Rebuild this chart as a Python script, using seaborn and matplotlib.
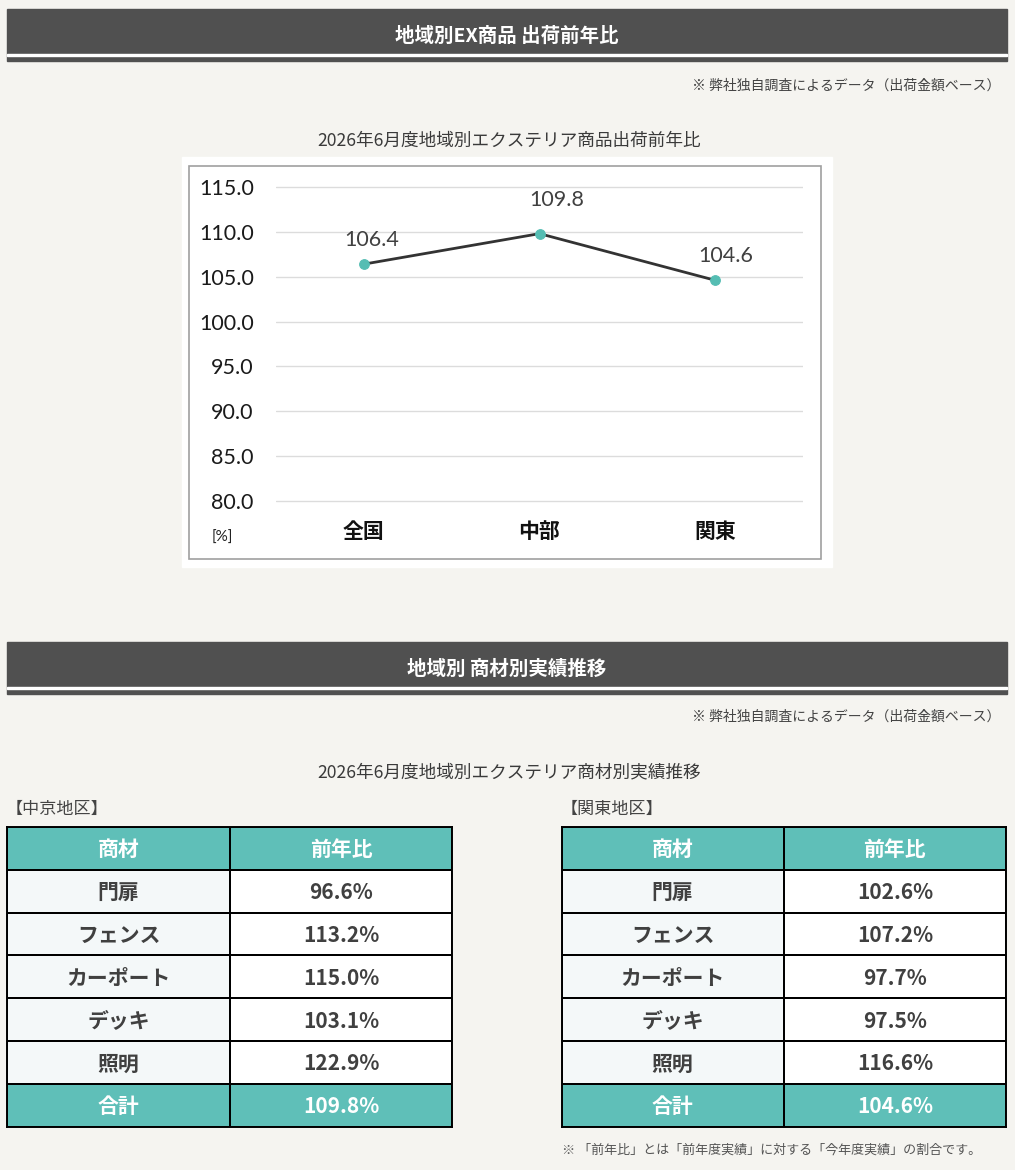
import matplotlib
matplotlib.use("Agg")
import matplotlib.pyplot as plt
import seaborn as sns
import numpy as np
from matplotlib.patches import Rectangle
from matplotlib.colors import ListedColormap

# ---------------- data ----------------
region_names = ["全国", "中部", "関東"]
region_yoy = [106.4, 109.8, 104.6]
y_ticks = [80, 85, 90, 95, 100, 105, 110, 115]

item_names = ["門扉", "フェンス", "カーポート", "デッキ", "照明"]
chukyo_yoy = [96.6, 113.2, 115.0, 103.1, 122.9]
chukyo_total = 109.8
kanto_yoy = [102.6, 107.2, 97.7, 97.5, 116.6]
kanto_total = 104.6

header_labels = ["商材", "前年比"]
total_label = "合計"

# ---------------- style ----------------
W, H = 1015, 1170
BG = "#f5f4f0"
DARK = "#505050"
TEAL = "#5fbfb8"
MARK = "#55bdb3"
LIGHT = "#f4f8f9"
TXT = "#404040"
JP = ["Noto Sans CJK JP", "DejaVu Sans"]
NUM = ["Lato", "Noto Sans CJK JP", "DejaVu Sans"]

sns.set_theme(style="white")
plt.rcParams["font.family"] = JP


def fx(x):
    return x / W


def fy(y):
    return 1 - y / H


fig = plt.figure(figsize=(W / 100, H / 100), dpi=100)
fig.patch.set_facecolor(BG)


def rect(x0, y0, x1, y1, z=-5, **kw):
    fig.patches.append(Rectangle((fx(x0), fy(y1)), (x1 - x0) / W, (y1 - y0) / H,
                                 transform=fig.transFigure, figure=fig, zorder=z, **kw))


def header(y0, title):
    rect(7, y0, 1007, y0 + 51.7, color=DARK)
    rect(7, y0 + 45.3, 1007, y0 + 46.8, color="white", z=-4)
    fig.text(fx(507), fy(y0 + 27.5), title, color="white", fontsize=14,
             fontweight="bold", ha="center", va="center", family=JP)


def note(y):
    fig.text(fx(1000), fy(y), "※ 弊社独自調査によるデータ（出荷金額ベース）",
             color="#444444", fontsize=10, ha="right", va="center", family=JP)


# ---------------- section 1 ----------------
header(9, "地域別EX商品 出荷前年比")
note(86)
fig.text(fx(509), fy(140.5), "2026年6月度地域別エクステリア商品出荷前年比",
         color="#3a3a3a", fontsize=12.7, ha="center", va="center", family=JP)

rect(182, 156.7, 831.5, 566.7, color="white")
rect(189.3, 165.7, 821, 559.3, fill=False, edgecolor="#a0a0a0", linewidth=1.2, z=-3)

ax = fig.add_axes([fx(276), fy(505.5), (803 - 276) / W, (505.5 - 182.5) / H])
ax.set_facecolor("white")
sns.lineplot(x=region_names, y=region_yoy, sort=False, ax=ax, color="#333333",
             linewidth=2.0, marker="o", markersize=7, markerfacecolor=MARK,
             markeredgecolor=MARK, zorder=3)
ax.set_xlim(-0.5, 2.5)
ax.set_ylim(79.5, 115.5)
ax.set_yticks(y_ticks)
ax.set_yticklabels([f"{v:.1f}" for v in y_ticks], family=NUM, fontsize=15.5, color="#1a1a1a")
ax.set_xticks(range(len(region_names)))
ax.set_xticklabels(region_names, family=JP, fontsize=15, fontweight="bold", color="#111111")
ax.tick_params(axis="y", length=0, pad=16)
ax.tick_params(axis="x", length=0, pad=11)
ax.yaxis.grid(True, color="#dcdcdc", linewidth=1)
ax.xaxis.grid(False)
for s in ax.spines.values():
    s.set_visible(False)
ax.set_xlabel("")
ax.set_ylabel("")

label_offsets = [(5.8, 17.6), (12.2, 24.2), (7.9, 17.6)]
for i, v in enumerate(region_yoy):
    ax.annotate(f"{v:.1f}", (i, v), xytext=label_offsets[i], textcoords="offset points",
                ha="center", va="center", family=NUM, fontsize=15.5, color="#404040")

fig.text(fx(222), fy(537.5), "[%]", fontsize=11, ha="center", va="center",
         color="#222222", family=NUM)

# ---------------- section 2 ----------------
header(642, "地域別 商材別実績推移")
note(717)
fig.text(fx(509), fy(772.5), "2026年6月度地域別エクステリア商材別実績推移",
         color="#3a3a3a", fontsize=12.7, ha="center", va="center", family=JP)
fig.text(fx(6), fy(809), "【中京地区】", color="#444444", fontsize=12.3,
         ha="left", va="center", family=JP)
fig.text(fx(561), fy(809), "【関東地区】", color="#444444", fontsize=12.3,
         ha="left", va="center", family=JP)

cmap = ListedColormap([TEAL, LIGHT, "white"])


def draw_table(x0, x1, vals, total):
    tax = fig.add_axes([fx(x0), fy(1127), (x1 - x0) / W, (1127 - 826.7) / H])
    n = len(vals)
    codes = np.zeros((n + 2, 2))
    codes[1:n + 1, 0] = 1
    codes[1:n + 1, 1] = 2
    sns.heatmap(codes, ax=tax, cmap=cmap, vmin=-0.5, vmax=2.5, cbar=False,
                linewidths=1.2, linecolor="black", xticklabels=False, yticklabels=False)
    for s in tax.spines.values():
        s.set_visible(True)
        s.set_color("black")
        s.set_linewidth(1.4)
    rows = [(header_labels[0], header_labels[1], True)]
    rows += [(item_names[i], f"{vals[i]:.1f}%", False) for i in range(n)]
    rows += [(total_label, f"{total:.1f}%", True)]
    for r, (a, b, hl) in enumerate(rows):
        c = "white" if hl else TXT
        for j, t in enumerate((a, b)):
            tax.text(j + 0.5, r + 0.53, t, ha="center", va="center", color=c,
                     fontsize=15, fontweight="bold", family=JP)


draw_table(7.3, 452.3, chukyo_yoy, chukyo_total)
draw_table(561.5, 1006, kanto_yoy, kanto_total)

fig.text(fx(562), fy(1150), "※ 「前年比」とは「前年度実績」に対する「今年度実績」の割合です。",
         color="#555555", fontsize=9.4, ha="left", va="center", family=JP)

fig.savefig("out.png", dpi=100, facecolor=BG)
